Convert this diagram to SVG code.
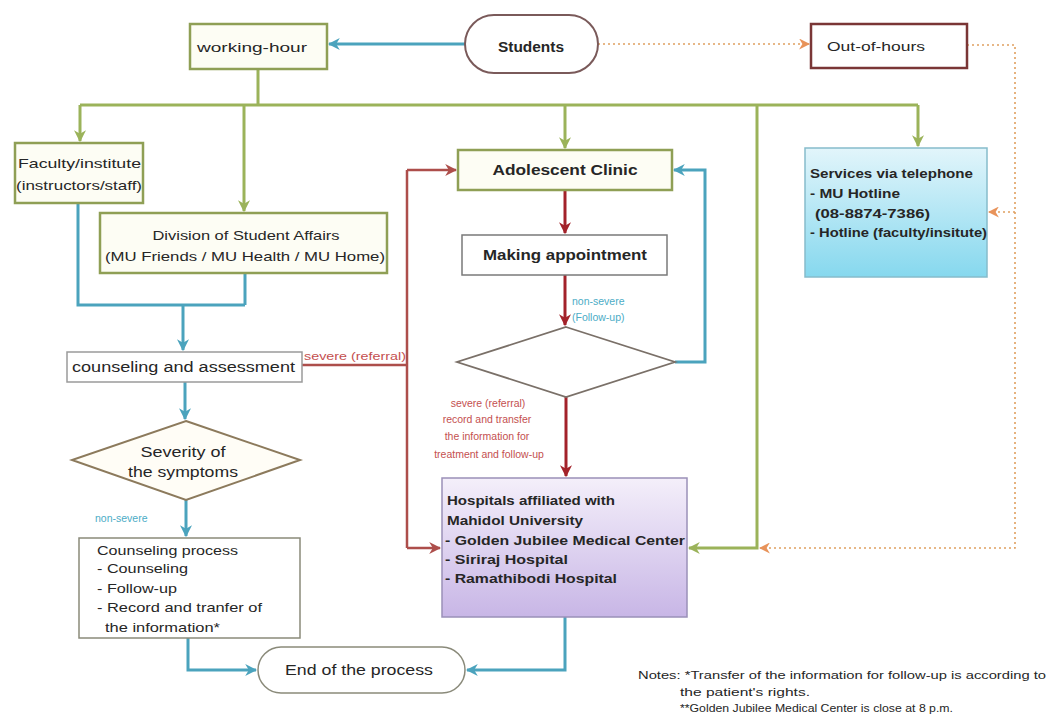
<svg xmlns="http://www.w3.org/2000/svg" width="1050" height="718" viewBox="0 0 1050 718">
<style>
  text { font-family: "Liberation Sans", Arial, sans-serif; fill: #262626; }
  .t13 { font-size: 13px; }
  .t14 { font-size: 14px; }
  .bold { font-weight: bold; }
  .lbl { font-size: 10.5px; }
  .red { fill: #c4504f; }
  .blue { fill: #4bacc6; }
  .note { font-size: 11.5px; }
  .gbox { fill: #fdfdf4; stroke: #8f9f55; stroke-width: 2.5; }
  .olive { fill: none; stroke: #9bb35a; stroke-width: 3; }
  .teal { fill: none; stroke: #4ba3bd; stroke-width: 3; }
  .dred { fill: none; stroke: #a3222a; stroke-width: 3; }
  .bred { fill: none; stroke: #ad4e4b; stroke-width: 2.5; }
  .dot { fill: none; stroke: #e0a060; stroke-width: 1.6; stroke-dasharray: 2 3; }
</style>
<defs>
  <marker id="aOlive" viewBox="0 0 10 10" refX="9" refY="5" markerWidth="12" markerHeight="12" markerUnits="userSpaceOnUse" orient="auto">
    <path d="M0,0 L10,5 L0,10 L3,5 z" fill="#9bb35a"/>
  </marker>
  <marker id="aTeal" viewBox="0 0 10 10" refX="9" refY="5" markerWidth="12" markerHeight="12" markerUnits="userSpaceOnUse" orient="auto">
    <path d="M0,0 L10,5 L0,10 L3,5 z" fill="#4ba3bd"/>
  </marker>
  <marker id="aRed" viewBox="0 0 10 10" refX="9" refY="5" markerWidth="12" markerHeight="12" markerUnits="userSpaceOnUse" orient="auto">
    <path d="M0,0 L10,5 L0,10 L3,5 z" fill="#a3222a"/>
  </marker>
  <marker id="aBred" viewBox="0 0 10 10" refX="9" refY="5" markerWidth="12" markerHeight="12" markerUnits="userSpaceOnUse" orient="auto">
    <path d="M0,0 L10,5 L0,10 L3,5 z" fill="#ad4e4b"/>
  </marker>
  <marker id="aOrange" viewBox="0 0 10 10" refX="9" refY="5" markerWidth="11" markerHeight="11" markerUnits="userSpaceOnUse" orient="auto">
    <path d="M0,0 L10,5 L0,10 L3,5 z" fill="#e8935a"/>
  </marker>
  <linearGradient id="gPurple" x1="0" y1="0" x2="0" y2="1">
    <stop offset="0" stop-color="#f4effa"/>
    <stop offset="1" stop-color="#c8b6e6"/>
  </linearGradient>
  <linearGradient id="gBlue" x1="0" y1="0" x2="0" y2="1">
    <stop offset="0" stop-color="#e2f5fb"/>
    <stop offset="1" stop-color="#86d8ee"/>
  </linearGradient>
</defs>

<g id="connectors">
  <path class="teal" d="M465,44 L329,44" marker-end="url(#aTeal)"/>
  <path class="dot" d="M598,44 L809,44" marker-end="url(#aOrange)"/>
  <path class="olive" d="M258,69 L258,105"/>
  <path class="olive" d="M80,105 L918,105"/>
  <path class="olive" d="M80,105 L80,141" marker-end="url(#aOlive)"/>
  <path class="olive" d="M244,105 L244,211" marker-end="url(#aOlive)"/>
  <path class="olive" d="M565,105 L565,148" marker-end="url(#aOlive)"/>
  <path class="olive" d="M918,105 L918,146" marker-end="url(#aOlive)"/>
  <path class="olive" d="M757,105 L757,548 L689,548" marker-end="url(#aOlive)"/>
  <path class="dot" d="M967,45 L1015,45 L1015,548 L760,548" marker-end="url(#aOrange)"/>
  <path class="dot" d="M1015,212 L989,212" marker-end="url(#aOrange)"/>
  <path class="teal" d="M78,203 L78,305 L245,305"/>
  <path class="teal" d="M245,273 L245,305"/>
  <path class="teal" d="M183,305 L183,350" marker-end="url(#aTeal)"/>
  <path class="teal" d="M185,382 L185,419" marker-end="url(#aTeal)"/>
  <path class="bred" d="M302,365 L407,365"/>
  <path class="bred" d="M407,170 L407,548"/>
  <path class="bred" d="M407,170 L456,170" marker-end="url(#aBred)"/>
  <path class="bred" d="M407,548 L440,548" marker-end="url(#aBred)"/>
  <path class="dred" d="M565,190 L565,233" marker-end="url(#aRed)"/>
  <path class="dred" d="M565,275 L565,325" marker-end="url(#aRed)"/>
  <path class="teal" d="M675,362 L705,362 L705,170 L674,170" marker-end="url(#aTeal)"/>
  <path class="dred" d="M566,397 L566,476" marker-end="url(#aRed)"/>
  <path class="teal" d="M565,617 L565,670 L467,670" marker-end="url(#aTeal)"/>
  <path class="teal" d="M186,500 L186,536" marker-end="url(#aTeal)"/>
  <path class="teal" d="M188,638 L188,670 L256,670" marker-end="url(#aTeal)"/>
  <text class="lbl red" x="304" y="360" textLength="102" lengthAdjust="spacingAndGlyphs">severe (referral)</text>
  <text class="lbl blue" x="572" y="305">non-severe</text>
  <text class="lbl blue" x="572" y="321">(Follow-up)</text>
  <g text-anchor="middle">
    <text class="lbl red" x="488" y="407">severe (referral)</text>
    <text class="lbl red" x="487" y="423">record and transfer</text>
    <text class="lbl red" x="487" y="440">the information for</text>
    <text class="lbl red" x="489" y="458">treatment and follow-up</text>
  </g>
  <text class="lbl blue" x="95" y="522">non-severe</text>
</g>

<g id="students">
  <rect x="465" y="15" width="133" height="58" rx="29" fill="#fff" stroke="#7a5a5a" stroke-width="2"/>
  <text class="t14 bold" x="531" y="52" text-anchor="middle" textLength="66" lengthAdjust="spacingAndGlyphs">Students</text>
</g>
<g id="working-hour">
  <rect class="gbox" x="190" y="24" width="137" height="45"/>
  <text class="t13" x="197" y="52" textLength="110" lengthAdjust="spacingAndGlyphs">working-hour</text>
</g>
<g id="out-of-hours">
  <rect x="811" y="24" width="156" height="44" fill="#fff" stroke="#7a3636" stroke-width="2.5"/>
  <text class="t13" x="827" y="51" textLength="98" lengthAdjust="spacingAndGlyphs">Out-of-hours</text>
</g>
<g id="faculty">
  <rect class="gbox" x="15" y="143" width="128" height="60"/>
  <text class="t13" x="18" y="168" textLength="123" lengthAdjust="spacingAndGlyphs">Faculty/institute</text>
  <text class="t13" x="16" y="190" textLength="126" lengthAdjust="spacingAndGlyphs">(instructors/staff)</text>
</g>
<g id="division">
  <rect class="gbox" x="100" y="213" width="287" height="60"/>
  <text class="t13" x="246" y="240" text-anchor="middle" textLength="187" lengthAdjust="spacingAndGlyphs">Division of Student Affairs</text>
  <text class="t13" x="245" y="261" text-anchor="middle" textLength="280" lengthAdjust="spacingAndGlyphs">(MU Friends / MU Health / MU Home)</text>
</g>
<g id="counseling-assessment">
  <rect x="67" y="352" width="235" height="30" fill="#fff" stroke="#9a9a9a" stroke-width="1.5"/>
  <text class="t14" x="72" y="372" textLength="223" lengthAdjust="spacingAndGlyphs">counseling and assessment</text>
</g>
<g id="severity">
  <polygon points="186,421 300,460 186,500 72,460" fill="#fffdf6" stroke="#8c7a5c" stroke-width="2"/>
  <text class="t14" x="183" y="457" text-anchor="middle" textLength="85" lengthAdjust="spacingAndGlyphs">Severity of</text>
  <text class="t14" x="183" y="477" text-anchor="middle" textLength="110" lengthAdjust="spacingAndGlyphs">the symptoms</text>
</g>
<g id="counseling-process">
  <rect x="79" y="538" width="221" height="100" fill="#fff" stroke="#8a8a7a" stroke-width="1.5"/>
  <text class="t13" x="97" y="555" textLength="141" lengthAdjust="spacingAndGlyphs">Counseling process</text>
  <text class="t13" x="97" y="573" textLength="91" lengthAdjust="spacingAndGlyphs">- Counseling</text>
  <text class="t13" x="97" y="593" textLength="80" lengthAdjust="spacingAndGlyphs">- Follow-up</text>
  <text class="t13" x="97" y="612" textLength="165" lengthAdjust="spacingAndGlyphs">- Record and tranfer of</text>
  <text class="t13" x="105" y="632" textLength="115" lengthAdjust="spacingAndGlyphs">the information*</text>
</g>
<g id="end">
  <rect x="258" y="647" width="207" height="46" rx="23" fill="#fff" stroke="#8a8a7a" stroke-width="1.5"/>
  <text class="t14" x="359" y="675" text-anchor="middle" textLength="148" lengthAdjust="spacingAndGlyphs">End of the process</text>
</g>
<g id="adolescent-clinic">
  <rect class="gbox" x="458" y="150" width="214" height="40"/>
  <text class="t14 bold" x="565" y="175" text-anchor="middle" textLength="145" lengthAdjust="spacingAndGlyphs">Adolescent Clinic</text>
</g>
<g id="making-appointment">
  <rect x="462" y="235" width="205" height="40" fill="#fff" stroke="#7a7a7a" stroke-width="1.5"/>
  <text class="t14 bold" x="565" y="260" text-anchor="middle" textLength="164" lengthAdjust="spacingAndGlyphs">Making appointment</text>
</g>
<g id="decision">
  <polygon points="566,327 675,362 566,397 457,362" fill="#fff" stroke="#7a7068" stroke-width="1.8"/>
</g>
<g id="hospitals">
  <rect x="442" y="478" width="245" height="139" fill="url(#gPurple)" stroke="#9a90b8" stroke-width="1.5"/>
  <text class="t13 bold" x="447" y="505" textLength="168" lengthAdjust="spacingAndGlyphs">Hospitals affiliated with</text>
  <text class="t13 bold" x="447" y="525" textLength="136" lengthAdjust="spacingAndGlyphs">Mahidol University</text>
  <text class="t13 bold" x="445" y="545" textLength="240" lengthAdjust="spacingAndGlyphs">- Golden Jubilee Medical Center</text>
  <text class="t13 bold" x="445" y="564" textLength="123" lengthAdjust="spacingAndGlyphs">- Siriraj Hospital</text>
  <text class="t13 bold" x="445" y="583" textLength="172" lengthAdjust="spacingAndGlyphs">- Ramathibodi Hospital</text>
</g>
<g id="services">
  <rect x="805" y="148" width="182" height="129" fill="url(#gBlue)" stroke="#86bccb" stroke-width="1.5"/>
  <text class="t13 bold" x="810" y="178" textLength="163" lengthAdjust="spacingAndGlyphs">Services via telephone</text>
  <text class="t13 bold" x="810" y="198" textLength="90" lengthAdjust="spacingAndGlyphs">- MU Hotline</text>
  <text class="t13 bold" x="815" y="218" textLength="115" lengthAdjust="spacingAndGlyphs">(08-8874-7386)</text>
  <text class="t13 bold" x="810" y="237" textLength="177" lengthAdjust="spacingAndGlyphs">- Hotline (faculty/insitute)</text>
</g>
<g id="notes">
  <text class="note" x="638" y="679" textLength="408" lengthAdjust="spacingAndGlyphs">Notes: *Transfer of the information for follow-up is according to</text>
  <text class="note" x="680" y="696" textLength="130" lengthAdjust="spacingAndGlyphs">the patient's rights.</text>
  <text class="note" x="680" y="712" textLength="273" lengthAdjust="spacingAndGlyphs">**Golden Jubilee Medical Center is close at 8 p.m.</text>
</g>
</svg>
